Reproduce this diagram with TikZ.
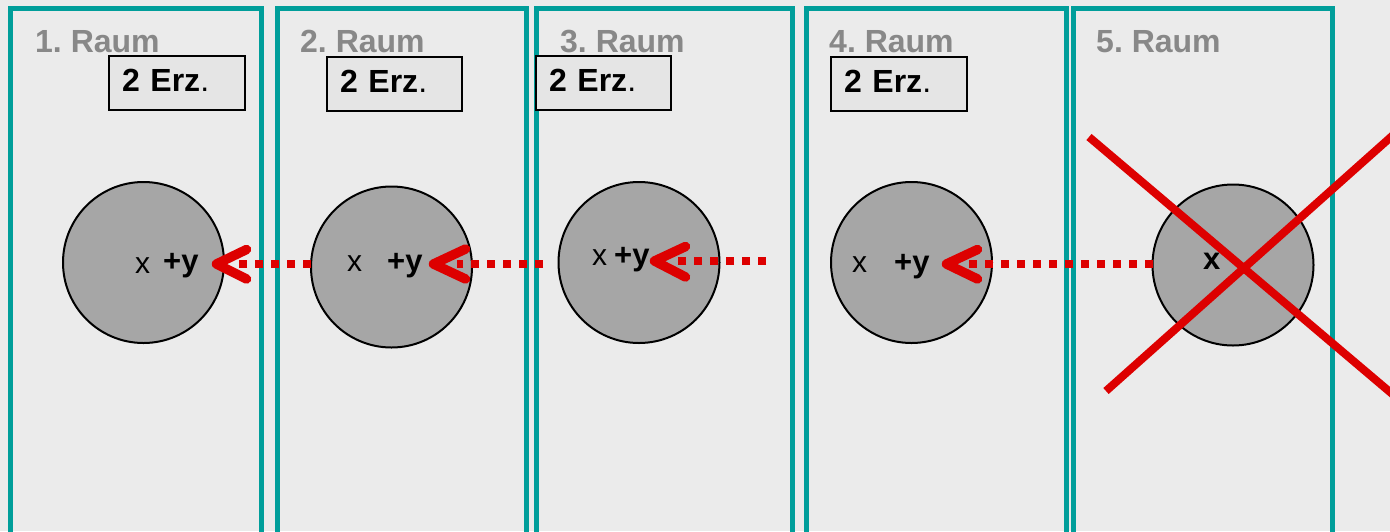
\documentclass[tikz,border=0pt]{standalone}
\usepackage{fontspec}
\setmainfont{Liberation Sans}
\usetikzlibrary{calc}
\definecolor{bg}{RGB}{235,235,235}
\definecolor{roomteal}{RGB}{0,158,154}
\definecolor{boxfill}{RGB}{229,229,229}
\definecolor{ballfill}{RGB}{166,166,166}
\definecolor{redx}{RGB}{221,0,0}
\definecolor{raumgray}{RGB}{136,136,136}
\begin{document}
\frenchspacing
\begin{tikzpicture}[x=1pt,y=-1pt,
  room/.style={draw=roomteal,line width=5pt,anchor=north west,inner sep=0pt,outer sep=0pt,minimum height=560pt},
  raum/.style={anchor=base west,inner sep=0pt,font=\fontsize{32}{36}\selectfont\bfseries\frenchspacing,text=raumgray},
  erzbox/.style={draw=black,line width=1.5pt,fill=boxfill,anchor=north west,outer sep=0pt,
    minimum height=54pt,inner xsep=13pt,inner ysep=0pt,text height=22pt,text depth=6pt,align=left,
    font=\fontsize{32}{36}\selectfont\frenchspacing},
  ball/.style={circle,draw=black,line width=2pt,fill=ballfill,minimum size=161pt,inner sep=0pt,outer sep=0pt},
  var/.style={anchor=base west,inner sep=0pt,font=\fontsize{30}{36}\selectfont},
  bvar/.style={var,font=\fontsize{31}{36}\selectfont\bfseries},
  dotline/.style={draw=redx,line width=8pt,dash pattern=on 8pt off 8pt},
  arrowhead/.style={draw=redx,line width=9.5pt,line cap=round,line join=round},
  crossline/.style={draw=redx,line width=8pt}
]
\useasboundingbox (0,0) rectangle (1390,531);
\clip (0,0) rectangle (1390,531);
\fill[bg] (0,0) rectangle (1390,531);

% rooms
\node[room,minimum width=250.5pt] (r1) at (10.5,8) {};
\node[room,minimum width=248.5pt] (r2) at (277.5,8) {};
\node[room,minimum width=256pt] (r3) at (536.5,8) {};
\node[room,minimum width=259.5pt] (r4) at (806.5,8) {};
\node[room,minimum width=258.5pt] (r5) at (1073.5,8) {};

% room labels
\node[raum] (t1) at (35,52) {1. Raum};
\node[raum] (t2) at (300,52) {2. Raum};
\node[raum] (t3) at (560,52) {3. Raum};
\node[raum] (t4) at (829,52) {4. Raum};
\node[raum] (t5) at (1096,52) {5. Raum};

% Erz boxes
\node[erzbox,text width=110pt] (e1) at (109,56) {\textbf{2 Erz}.};
\node[erzbox,text width=109pt] (e2) at (327,57) {\textbf{2 Erz}.};
\node[erzbox,text width=109pt] (e3) at (536,56) {\textbf{2 Erz}.};
\node[erzbox,text width=110pt] (e4) at (831,57) {\textbf{2 Erz}.};

% balls
\node[ball] (c1) at (143.5,262.5) {};
\node[ball] (c2) at (391.5,267) {};
\node[ball] (c3) at (639,262.5) {};
\node[ball] (c4) at (911.5,262.5) {};
\node[ball] (c5) at (1233,265) {};

% ball texts
\node[var] (x1) at (135,273) {x};
\node[bvar] (y1) at (163,271) {+y};
\node[var] (x2) at (347,271) {x};
\node[bvar] (y2) at (387,271) {+y};
\node[var] (x3) at (592,265) {x};
\node[bvar] (y3) at (614,265) {+y};
\node[var] (x4) at (852,272) {x};
\node[bvar] (y4) at (894,272) {+y};
\node[bvar] (x5) at (1203,269) {x};

% arrow tips and free ends
\coordinate (a1) at (216.5,264);
\coordinate (a2) at (433.5,264);
\coordinate (a3) at (654.5,261);
\coordinate (a4) at (946.5,264);
\coordinate (f2) at (543,264);
\coordinate (f3) at (766,261);

% dotted connectors
\draw[dotline] (c2.west |- a1) -- ($(a1)+(20.5,0)$);
\draw[dotline] (f2) -- ($(a2)+(23.5,0)$);
\draw[dotline] (f3) -- ($(a3)+(23.5,0)$);
\draw[dotline] (c5.west |- a4) -- ($(a4)+(21.5,0)$);

% arrowheads
\draw[arrowhead] ($(a1)+(30,-14.5)$) -- (a1) -- ($(a1)+(30,15)$);
\draw[arrowhead] ($(a2)+(32,-15)$) -- (a2) -- ($(a2)+(32,15)$);
\draw[arrowhead] ($(a3)+(31,-14.5)$) -- (a3) -- ($(a3)+(31,16)$);
\draw[arrowhead] ($(a4)+(31,-14.5)$) -- (a4) -- ($(a4)+(31,15)$);

% cross over room 5
\coordinate (k1) at (1089,137);
\coordinate (k2) at (1410,409);
\coordinate (k3) at (1106,391);
\coordinate (k4) at (1410,120);
\draw[crossline] (k1) -- (k2);
\draw[crossline] (k3) -- (k4);
\end{tikzpicture}
\end{document}
